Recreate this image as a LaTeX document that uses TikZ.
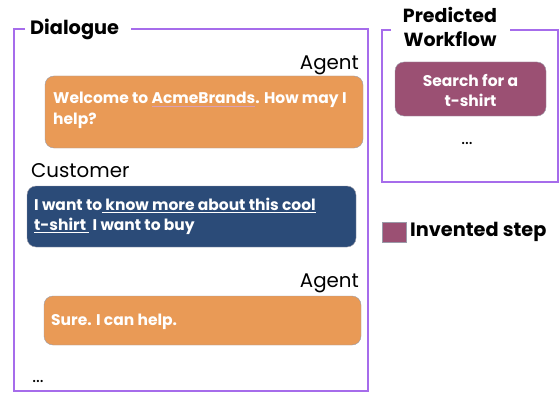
\documentclass[tikz,border=0pt]{standalone}
\usepackage{fontspec}
\setmainfont{Poppins}
\definecolor{frame}{HTML}{A66CEB}
\definecolor{agentc}{HTML}{E99A56}
\definecolor{custc}{HTML}{2B4B78}
\definecolor{stepc}{HTML}{9B5073}
\definecolor{edgec}{HTML}{9A9AA8}
\definecolor{ulpink}{HTML}{D8A0B8}
\newcommand\pinkul[1]{\setbox0\hbox{#1}\rlap{\color{ulpink}\rule[-3pt]{\wd0}{0.5pt}}\box0}
\tikzset{
  panel/.style={draw=frame, line width=1.2pt},
  title/.style={font=\bfseries\fontsize{19.3}{21}\selectfont, text=black, inner sep=0pt},
  speaker/.style={font=\fontsize{19.8}{21}\selectfont, text=black, inner sep=0pt},
  bubble/.style={draw=edgec, line width=0.4pt, rounded corners=9pt},
  msg/.style={font=\bfseries\fontsize{15.5}{21}\selectfont, text=white, inner sep=0pt, align=left},
  dots/.style={font=\fontsize{18}{20}\selectfont, text=black, inner sep=0pt},
}
\begin{document}
\begin{tikzpicture}[x=1pt,y=-1pt]
\useasboundingbox (0,0) rectangle (560,396);
% Dialogue panel
\coordinate (d1) at (25,29);
\coordinate (d2) at (131,29);
\draw[panel] (d1) -- (14,29) -- (14,391) -- (368,391) -- (368,29) -- (d2);
\node[title, anchor=base west] (dtitle) at (30,35) {Dialogue};
% Workflow panel
\coordinate (w1) at (391,30);
\coordinate (w2) at (510,30);
\draw[panel] (w1) -- (382,30) -- (382,182) -- (558,182) -- (558,30) -- (w2);
\node[title, align=center, font=\bfseries\fontsize{19}{24}\selectfont] (wtitle) at (450,27) {Predicted\\Workflow};
% step
\node[bubble, fill=stepc, minimum width=151pt, minimum height=54pt] (step1) at (470.5,89) {};
\node[msg, align=center, font=\bfseries\fontsize{15.5}{20}\selectfont] (step1t) at (470.5,90) {Search for a\\t-shirt};
\node[dots] (wdots) at (467,143) {...};
% legend
\node[draw=edgec, line width=0.4pt, fill=stepc, minimum width=24pt, minimum height=20pt, inner sep=0pt] (leg) at (394,232) {};
\node[title, anchor=west] (legt) at (410,232) {Invented step};
% agent 1
\node[speaker, anchor=base east] (ag1) at (359,70) {Agent};
\node[bubble, fill=agentc, minimum width=318pt, minimum height=72pt] (b1) at (204,112) {};
\node[msg, anchor=north west] (b1t) at (53,92) {Welcome to \pinkul{AcmeBrands}. How may I\\help?};
% customer
\node[speaker, anchor=base west] (cu) at (31,177) {Customer};
\node[bubble, fill=custc, minimum width=329pt, minimum height=61pt] (b2) at (191.5,216.5) {};
\node[msg, anchor=north west, font=\bfseries\fontsize{15.5}{20}\selectfont] (b2t) at (34,198) {I want to\underline{\ know more about this cool}\\\underline{t-shirt\ }\ I want to buy};
% agent 2
\node[speaker, anchor=base east] (ag2) at (359,287) {Agent};
\node[bubble, fill=agentc, minimum width=317pt, minimum height=49pt] (b3) at (202.5,320.5) {};
\node[msg, anchor=west] (b3t) at (51,322) {Sure. I can help.};
\node[dots] (ddots) at (38,381) {...};
\end{tikzpicture}
\end{document}
